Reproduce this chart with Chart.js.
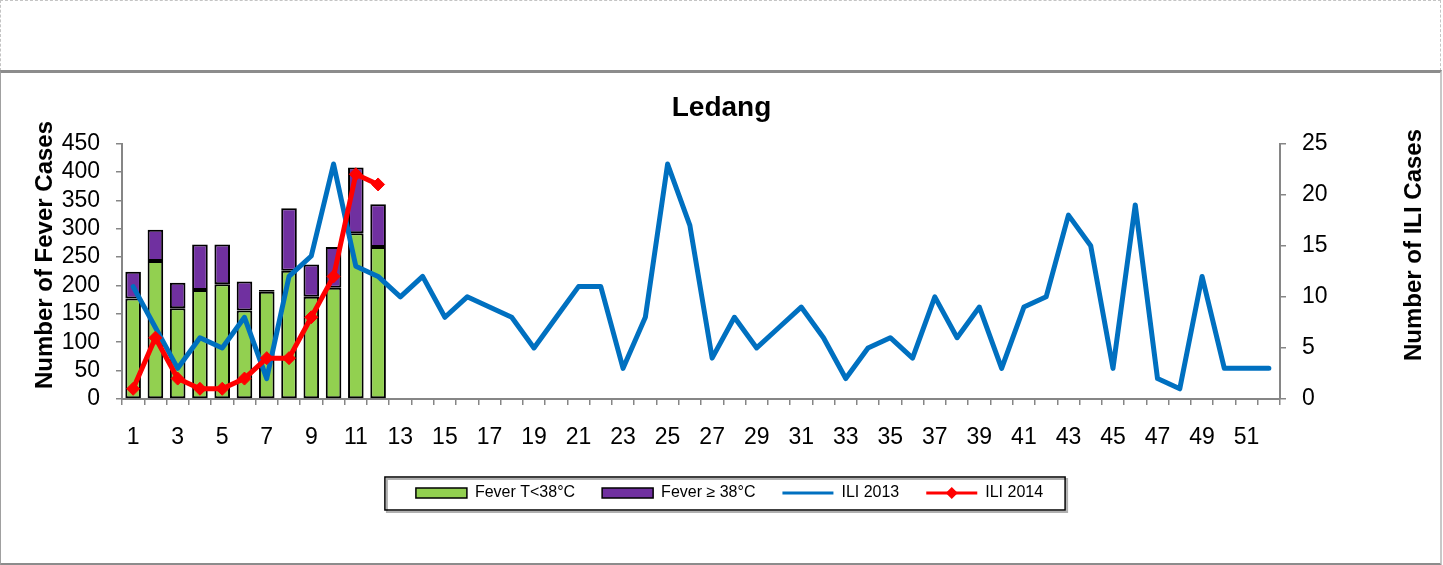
<!DOCTYPE html>
<html>
<head>
<meta charset="utf-8">
<script src="https://cdn.jsdelivr.net/npm/chart.js@4/dist/chart.umd.min.js"></script>
<style>
  html, body { margin: 0; padding: 0; background: #fff; }
  body { width: 1443px; height: 565px; position: relative; overflow: hidden; }
  #topBox { position: absolute; left: 0; top: 0; width: 1439px; height: 70px;
    border: 1px dashed #c4c4c4; border-bottom: none; }
  #frame { position: absolute; left: 0; top: 70px; width: 1439px; height: 490px;
    border-top: 3px solid #8c8c8c; border-bottom: 3px solid #8c8c8c;
    border-left: 1px solid #a0a0a0; border-right: 2px solid #c8c8c8; }
  #wrap { position: absolute; left: 0; top: 0; width: 1443px; height: 565px; }
</style>
</head>
<body>
<div id="topBox"></div>
<div id="frame"></div>
<div id="wrap"><canvas id="chartLedang" width="1443" height="565"></canvas></div>
<script>
const weeks = Array.from({length: 52}, (_, i) => String(i + 1));
const feverBelow38 = [177, 243, 160, 192, 202, 156, 189, 226, 180, 196, 292, 268];
const feverAbove38 = [47, 55, 45, 80, 70, 51, 3, 110, 57, 72, 116, 75];
const ili2013 = [11, 7, 3, 6, 5, 8, 2, 12, 14, 23, 13, 12, 10, 12, 8, 10, 9, 8, 5, 8,
  11, 11, 3, 8, 23, 17, 4, 8, 5, 7, 9, 6, 2, 5, 6, 4, 10, 6, 9, 3,
  9, 10, 18, 15, 3, 19, 2, 1, 12, 3, 3, 3];
const ili2014 = [1, 6, 2, 1, 1, 2, 4, 4, 8, 12, 22, 21];
const feverTicks = [0, 450, 50];
const iliTicks = [0, 25, 5];
const axisTitles = ['Number of Fever Cases', 'Number of ILI Cases'];

const FONT = 'Liberation Sans, Arial, sans-serif';
const axisGray = '#868686';

// axis titles read bottom-to-top on both sides, like the original
const axisTitlePlugin = {
  id: 'axisTitles',
  afterDraw(chart){
    const c = chart.ctx;
    const put = (txt, x, y) => {
      c.save();
      c.translate(x, y);
      c.rotate(-Math.PI / 2);
      c.font = 'bold 24px ' + FONT;
      c.fillStyle = '#000';
      c.textAlign = 'center';
      c.textBaseline = 'middle';
      c.fillText(txt, 0, 0);
      c.restore();
    };
    put(axisTitles[0], 45, 255);
    put(axisTitles[1], 1414, 245);
  }
};

// frame around the legend, plus the diamond on the ILI 2014 sample
const legendFrame = {
  id: 'legendFrame',
  afterUpdate(chart){
    const lg = chart.legend;
    lg.left += 8; lg.right += 8;
    (lg.legendHitBoxes || []).forEach(h => { h.left += 8; });
  },
  afterDraw(chart){
    const hb = chart.legend.legendHitBoxes;
    if (!hb || !hb.length) return;
    const c = chart.ctx;
    const last = hb[hb.length - 1];
    const x1 = hb[0].left - 31, x2 = last.left + last.width + 22;
    const cy = hb[0].top + 8;
    const y1 = cy - 16, y2 = cy + 17;
    c.save();
    c.strokeStyle = '#b0b0b0';
    c.lineWidth = 2;
    c.strokeRect(x1 + 2, y1 + 2, x2 - x1, y2 - y1);
    c.strokeStyle = '#000';
    c.lineWidth = 1.5;
    c.strokeRect(x1, y1, x2 - x1, y2 - y1);
    const dx = last.left + 25.5;
    c.fillStyle = '#ff0000';
    c.beginPath();
    c.moveTo(dx - 6, cy); c.lineTo(dx, cy - 6); c.lineTo(dx + 6, cy); c.lineTo(dx, cy + 6);
    c.closePath();
    c.fill();
    c.restore();
  }
};

new Chart(document.getElementById('chartLedang'), {
  type: 'bar',
  data: {
    labels: weeks,
    datasets: [
      { label: 'Fever T<38°C', data: feverBelow38, yAxisID: 'y', order: 2,
        backgroundColor: '#92d050', borderColor: '#000', borderWidth: 2, borderSkipped: false,
        barPercentage: 0.7, categoryPercentage: 1 },
      { label: 'Fever ≥ 38°C', data: feverAbove38, yAxisID: 'y', order: 3,
        backgroundColor: '#7030a0', borderColor: '#000', borderWidth: 2, borderSkipped: false,
        barPercentage: 0.7, categoryPercentage: 1 },
      { type: 'line', label: 'ILI 2013', data: ili2013, yAxisID: 'y2', order: 1,
        borderColor: '#0070c0', backgroundColor: '#0070c0', borderWidth: 5,
        pointRadius: 0, tension: 0, borderJoinStyle: 'round', borderCapStyle: 'round' },
      { type: 'line', label: 'ILI 2014', data: ili2014, yAxisID: 'y2', order: 0,
        borderColor: '#ff0000', backgroundColor: '#ff0000', borderWidth: 5,
        pointStyle: 'rectRot', pointRadius: 6.5, pointBorderWidth: 1, tension: 0,
        borderJoinStyle: 'round' }
    ]
  },
  options: {
    responsive: false,
    animation: false,
    layout: { padding: { left: 0, right: 0, top: 0, bottom: 54 } },
    plugins: {
      tooltip: { enabled: false },
      title: {
        display: true, text: 'Ledang', color: '#000',
        font: { family: FONT, size: 28, weight: 'bold' },
        padding: { top: 91, bottom: 19 }
      },
      legend: {
        position: 'bottom',
        labels: {
          color: '#000',
          font: { family: FONT, size: 16 },
          usePointStyle: true,
          pointStyleWidth: 51,
          boxHeight: 10,
          padding: 27,
          sort: (a, b) => a.datasetIndex - b.datasetIndex,
          generateLabels(chart){
            const items = Chart.defaults.plugins.legend.labels.generateLabels(chart);
            return items.map(it => {
              const isLine = chart.data.datasets[it.datasetIndex].type === 'line';
              it.pointStyle = isLine ? 'line' : 'rect';
              it.lineWidth = isLine ? 3 : 1.5;
              return it;
            });
          }
        }
      }
    },
    scales: {
      x: {
        stacked: true,
        grid: { drawOnChartArea: false, drawTicks: true, tickLength: 6, color: axisGray, lineWidth: 1.5, offset: true },
        border: { color: axisGray, width: 2 },
        ticks: {
          autoSkip: false, maxRotation: 0, padding: 19, color: '#000',
          font: { family: FONT, size: 23 },
          callback(v, i){ return i % 2 === 0 ? weeks[i] : ''; }
        },
        afterFit(s){ s.height = 59; }
      },
      y: {
        stacked: true, position: 'left',
        min: feverTicks[0], max: feverTicks[1],
        ticks: { stepSize: feverTicks[2], autoSkip: false, padding: 16, color: '#000', font: { family: FONT, size: 23 } },
        grid: { drawOnChartArea: false, tickLength: 6, color: axisGray, lineWidth: 1.5 },
        border: { color: axisGray, width: 2 },
        afterFit(s){ s.width = 122; }
      },
      y2: {
        stacked: false, position: 'right',
        min: iliTicks[0], max: iliTicks[1],
        ticks: { stepSize: iliTicks[2], autoSkip: false, padding: 16, color: '#000', font: { family: FONT, size: 23 } },
        grid: { drawOnChartArea: false, tickLength: 6, color: axisGray, lineWidth: 1.5 },
        border: { color: axisGray, width: 2 },
        afterFit(s){ s.width = 163; }
      }
    }
  },
  plugins: [legendFrame, axisTitlePlugin]
});
</script>
</body>
</html>
